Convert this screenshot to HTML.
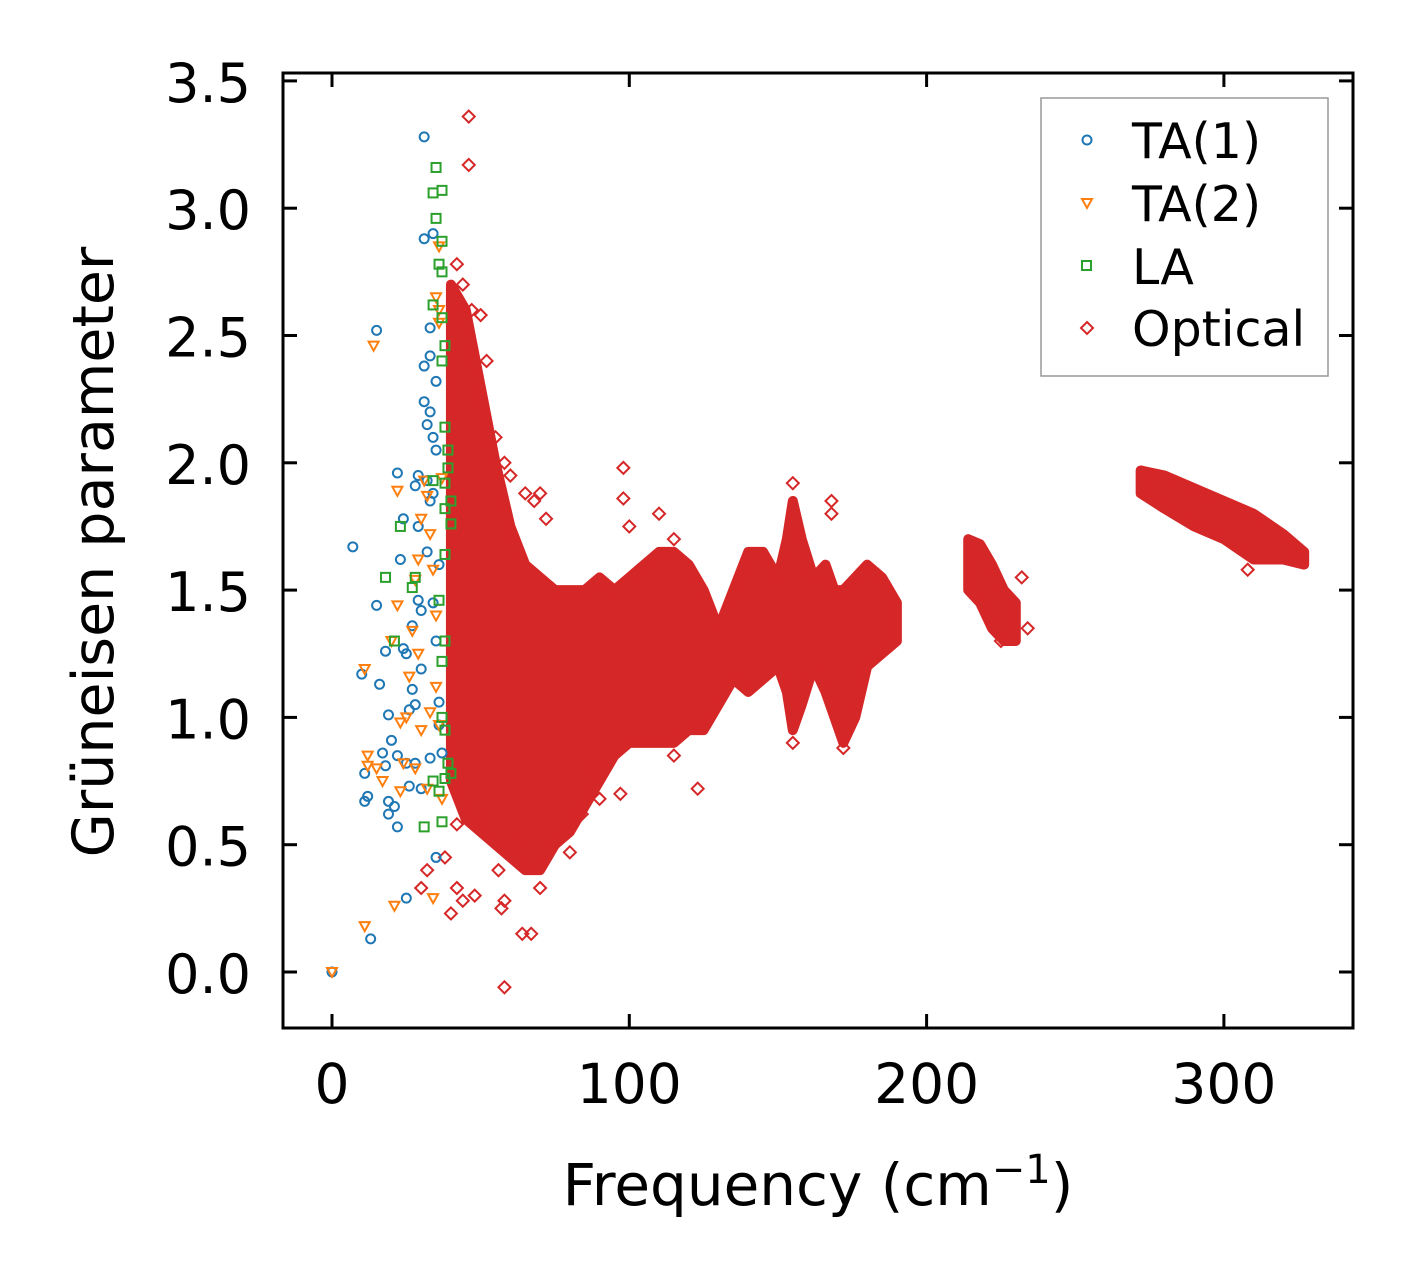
<!DOCTYPE html>
<html><head><meta charset="utf-8"><style>
body{margin:0;background:#fff;}
svg{display:block;font-family:"DejaVu Sans","Liberation Sans",sans-serif;}
</style></head><body>
<svg id="chart" width="1413" height="1278" viewBox="0 0 1413 1278" xmlns="http://www.w3.org/2000/svg">
<g id="marks"></g>
<rect x="283" y="73" width="1070" height="955" fill="none" stroke="#000" stroke-width="3"/>
<g id="axes"></g>
<text x="818" y="1205" font-size="58" text-anchor="middle">Frequency (cm<tspan dy="-22" font-size="40">−1</tspan><tspan dy="22">)</tspan></text>
<text transform="translate(113,552) rotate(-90)" font-size="57" text-anchor="middle">Grüneisen parameter</text>
<g>
<rect x="1041" y="98" width="287" height="278" fill="#fff" stroke="#999" stroke-width="1.5"/>
<circle cx="1087" cy="140" r="4.5" fill="none" stroke="#1f77b4" stroke-width="2"/>
<text x="1132" y="158" font-size="49">TA(1)</text>
<path d="M1082,199 L1092,199 L1087,208 Z" fill="none" stroke="#ff7f0e" stroke-width="2"/>
<text x="1132" y="221" font-size="49">TA(2)</text>
<rect x="1082" y="261" width="9" height="9" fill="none" stroke="#2ca02c" stroke-width="2"/>
<text x="1132" y="284" font-size="49">LA</text>
<path d="M1087,322 L1093,328 L1087,334 L1081,328 Z" fill="none" stroke="#d62728" stroke-width="2"/>
<text x="1132" y="346" font-size="49">Optical</text>
</g>
</svg>
<script>
const xTicks=[0,100,200,300];
const yTicks=[0.0,0.5,1.0,1.5,2.0,2.5,3.0,3.5];
const ta1X=[0,13,25,35,31,34,31,15,7,10,11,11,12,15,16,17,18,18,19,19,19,20,21,22,22,22,23,24,24,25,26,26,27,27,28,28,29,29,30,30,31,31,32,32,33,33,33,33,34,34,35,35,35,36,36,37,30,28,25,33,34,32,29,36];
const ta1Y=[0,0.13,0.29,0.45,3.28,2.9,2.88,2.52,1.67,1.17,0.78,0.67,0.69,1.44,1.13,0.86,0.81,1.26,1.01,0.67,0.62,0.91,0.65,0.85,0.57,1.96,1.62,1.78,1.27,1.25,1.03,0.73,1.11,1.36,1.91,0.82,1.95,1.46,0.72,1.42,2.38,2.24,2.15,1.65,2.53,2.42,2.2,1.85,2.1,1.45,2.32,2.05,1.3,1.06,0.97,0.86,1.19,1.05,0.82,0.84,1.88,1.93,1.75,1.6];
const ta2X=[0,11,21,34,14,36,35,36,36,22,11,12,12,15,17,20,22,23,23,24,25,26,27,28,29,30,31,32,33,34,35,35,36,30,32,28,37,37,29,33];
const ta2Y=[0,0.18,0.26,0.29,2.46,2.85,2.65,2.6,2.55,1.89,1.19,0.85,0.81,0.8,0.75,1.3,1.44,0.98,0.71,0.82,1.0,1.16,1.34,1.54,1.62,1.78,1.93,1.87,1.72,1.58,1.4,1.12,0.97,0.95,0.72,0.8,0.68,1.94,1.25,1.02];
const laX=[35,37,34,35,37,36,37,34,37,37,38,38,39,39,38,38,40,40,34,23,18,21,27,28,36,38,38,37,38,39,38,31,37,36,34,40,37];
const laY=[3.16,3.07,3.06,2.96,2.87,2.78,2.75,2.62,2.57,2.4,2.46,2.14,2.05,1.98,1.92,1.82,1.85,1.76,1.93,1.75,1.55,1.3,1.51,1.55,1.46,1.64,1.3,1.0,0.95,0.82,0.76,0.57,0.59,0.71,0.75,0.78,1.22];
// Optical dense-cloud envelopes (freq, low, high)
const band1F=[40,45,50,55,60,65,70,75,80,85,90,95,100,105,110,115,120,125,130,135,140,145,150,153,155,158,162,166,169,172,176,180,185,190];
const band1Lo=[0.75,0.6,0.55,0.5,0.45,0.4,0.4,0.5,0.55,0.65,0.75,0.85,0.9,0.9,0.9,0.9,0.95,0.95,1.05,1.15,1.1,1.15,1.2,1.1,0.95,1.05,1.2,1.1,1.0,0.9,1.0,1.2,1.25,1.3];
const band1Hi=[2.7,2.6,2.3,2.0,1.75,1.6,1.55,1.5,1.5,1.5,1.55,1.5,1.55,1.6,1.65,1.65,1.6,1.5,1.35,1.5,1.65,1.65,1.55,1.7,1.85,1.7,1.55,1.6,1.5,1.5,1.55,1.6,1.55,1.45];
const band2F=[214,218,222,226,230];
const band2Lo=[1.5,1.45,1.35,1.3,1.3];
const band2Hi=[1.7,1.68,1.6,1.5,1.45];
const band3F=[272,280,290,300,310,320,327];
const band3Lo=[1.88,1.82,1.75,1.7,1.62,1.62,1.6];
const band3Hi=[1.97,1.95,1.9,1.85,1.8,1.72,1.65];
const optX=[46,46,42,44,47,50,52,55,58,60,65,68,70,72,98,98,100,110,115,155,168,168,56,58,57,58,64,67,70,48,44,42,40,30,32,38,42,50,123,97,88,232,234,308,225,65,62,80,84,90,115,155,172];
const optY=[3.36,3.17,2.78,2.7,2.6,2.58,2.4,2.1,2.0,1.95,1.88,1.85,1.88,1.78,1.98,1.86,1.75,1.8,1.7,1.92,1.85,1.8,0.4,0.28,0.25,-0.06,0.15,0.15,0.33,0.3,0.28,0.33,0.23,0.33,0.4,0.45,0.58,0.6,0.72,0.7,0.8,1.55,1.35,1.58,1.3,0.42,0.5,0.47,0.62,0.68,0.85,0.9,0.88];

const NS='http://www.w3.org/2000/svg';
const sx=v=>332+v*2.973;
const sy=v=>972-v*254.6;
const marks=document.getElementById('marks');
const axes=document.getElementById('axes');
function mk(tag,attrs,parent){const e=document.createElementNS(NS,tag);for(const k in attrs)e.setAttribute(k,attrs[k]);parent.appendChild(e);return e;}

xTicks.forEach(t=>{
  const x=sx(t);
  const a=mk('line',{x1:x,x2:x,y1:1028,y2:1014,stroke:'#000','stroke-width':3},axes);
  
  
  const b=mk('line',{x1:x,x2:x,y1:73,y2:87,stroke:'#000','stroke-width':3},axes);
  
  
  const l=mk('text',{x:x,y:1103,'font-size':55,'text-anchor':'middle'},axes);
  l.textContent=String(t);
  
  
});
yTicks.forEach(t=>{
  const y=sy(t);
  const a=mk('line',{x1:283,x2:297,y1:y,y2:y,stroke:'#000','stroke-width':3},axes);
  
  
  const b=mk('line',{x1:1339,x2:1353,y1:y,y2:y,stroke:'#000','stroke-width':3},axes);
  
  
  const l=mk('text',{x:251,y:y+21,'font-size':54,'text-anchor':'end'},axes);
  l.textContent=t.toFixed(1);
  
  
});

function band(F,Lo,Hi,name){
  let pts=F.map((f,i)=>sx(f)+','+sy(Hi[i]));
  for(let i=F.length-1;i>=0;i--)pts.push(sx(F[i])+','+sy(Lo[i]));
  const p=mk('polygon',{points:pts.join(' '),fill:'#d62728',stroke:'#d62728','stroke-width':10,'stroke-linejoin':'round'},marks);
  
  
}
band(band1F,band1Lo,band1Hi,'optical-cloud-low');
band(band2F,band2Lo,band2Hi,'optical-cloud-mid');
band(band3F,band3Lo,band3Hi,'optical-cloud-high');

optX.forEach((v,i)=>{
  const x=sx(v),y=sy(optY[i]);
  const p=mk('path',{d:`M${x},${y-6}L${x+6},${y}L${x},${y+6}L${x-6},${y}Z`,fill:'none',stroke:'#d62728','stroke-width':2},marks);
  
  
});
ta1X.forEach((v,i)=>{
  const c=mk('circle',{cx:sx(v),cy:sy(ta1Y[i]),r:4.5,fill:'none',stroke:'#1f77b4','stroke-width':2},marks);
  
  
});
ta2X.forEach((v,i)=>{
  const x=sx(v),y=sy(ta2Y[i]);
  const p=mk('path',{d:`M${x-5},${y-4}L${x+5},${y-4}L${x},${y+5}Z`,fill:'none',stroke:'#ff7f0e','stroke-width':2},marks);
  
  
});
laX.forEach((v,i)=>{
  const r=mk('rect',{x:sx(v)-4.5,y:sy(laY[i])-4.5,width:9,height:9,fill:'none',stroke:'#2ca02c','stroke-width':2},marks);
  
  
});
</script>
</body></html>
